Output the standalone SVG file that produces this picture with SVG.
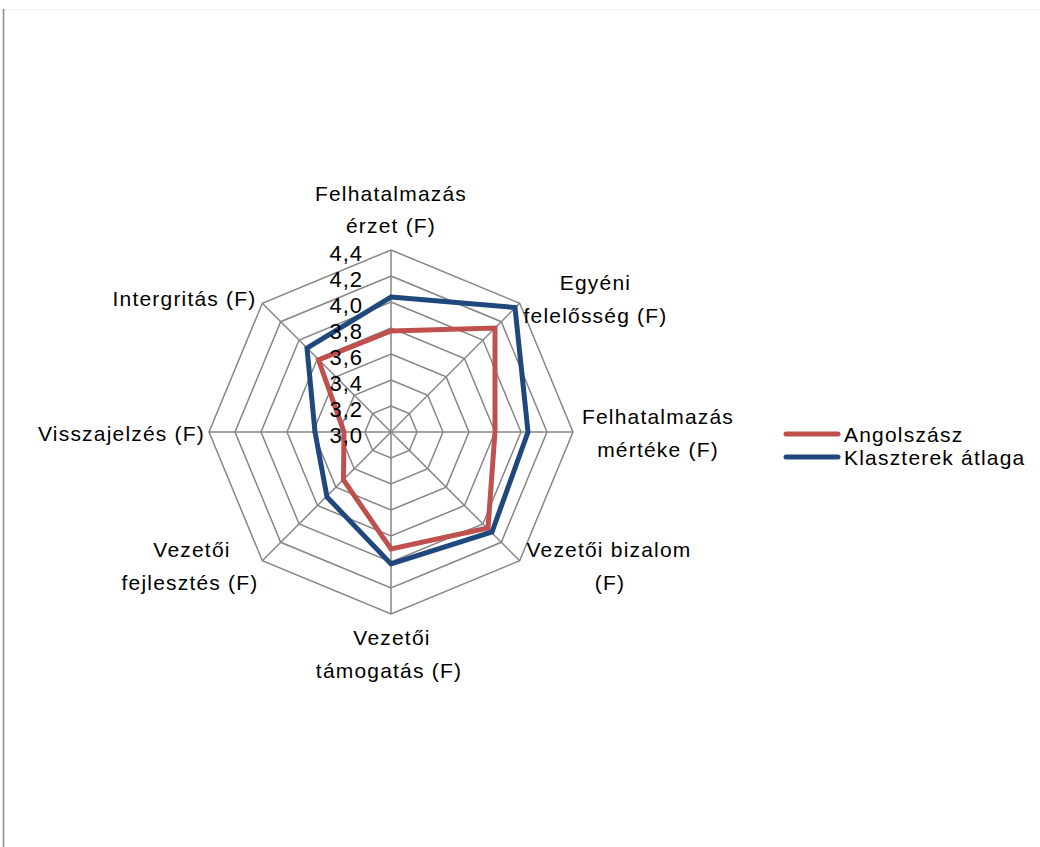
<svg xmlns="http://www.w3.org/2000/svg" width="1040" height="847" viewBox="0 0 1040 847">
  <style>
    text { font-family: "Liberation Sans", Arial, sans-serif; font-size: 21px; fill: #000; letter-spacing: 1.2px; }
    .lbl { text-anchor: middle; }
    .num { text-anchor: end; font-size: 22px; letter-spacing: 1px; }
    .ring { fill: none; stroke: #868686; stroke-width: 1.5; }
    .spoke { stroke: #868686; stroke-width: 1.5; }
    .series { fill: none; stroke-width: 5; stroke-linejoin: miter; }
    .red { stroke: #C0504D; }
    .blue { stroke: #1F497D; }
  </style>

  <!-- frame -->
  <rect x="0" y="0" width="1040" height="847" fill="#ffffff"/>
  <line x1="3.5" y1="9.5" x2="1040" y2="9.5" stroke="#efefef" stroke-width="1"/>
  <line x1="3.5" y1="9" x2="3.5" y2="847" stroke="#8a8a8a" stroke-width="1.5"/>

  <!-- radar grid: 7 rings (3,0 .. 4,4) and 8 spokes -->
  <g id="grid">
    <polygon class="ring" points="391,406 409.38,413.62 417,432 409.38,450.38 391,458 372.62,450.38 365,432 372.62,413.62"/>
    <polygon class="ring" points="391,380 427.77,395.23 443,432 427.77,468.77 391,484 354.23,468.77 339,432 354.23,395.23"/>
    <polygon class="ring" points="391,354 446.15,376.85 469,432 446.15,487.15 391,510 335.85,487.15 313,432 335.85,376.85"/>
    <polygon class="ring" points="391,328 464.54,358.46 495,432 464.54,505.54 391,536 317.46,505.54 287,432 317.46,358.46"/>
    <polygon class="ring" points="391,302 482.92,340.08 521,432 482.92,523.92 391,562 299.08,523.92 261,432 299.08,340.08"/>
    <polygon class="ring" points="391,276 501.31,321.69 547,432 501.31,542.31 391,588 280.69,542.31 235,432 280.69,321.69"/>
    <polygon class="ring" points="391,250 519.69,303.31 573,432 519.69,560.69 391,614 262.31,560.69 209,432 262.31,303.31"/>
    <line class="spoke" x1="391" y1="432" x2="391" y2="250"/>
    <line class="spoke" x1="391" y1="432" x2="519.69" y2="303.31"/>
    <line class="spoke" x1="391" y1="432" x2="573" y2="432"/>
    <line class="spoke" x1="391" y1="432" x2="519.69" y2="560.69"/>
    <line class="spoke" x1="391" y1="432" x2="391" y2="614"/>
    <line class="spoke" x1="391" y1="432" x2="262.31" y2="560.69"/>
    <line class="spoke" x1="391" y1="432" x2="209" y2="432"/>
    <line class="spoke" x1="391" y1="432" x2="262.31" y2="303.31"/>
  </g>

  <!-- data series -->
  <g id="series">
    <polygon id="series-angolszasz" class="series red" points="391,331 495,328 495,432 488,528 391,549 343.5,480 344,432 318.5,360"/>
    <polygon id="series-klaszterek" class="series blue" points="391,297 515,307.5 528,432 492,532 391,564 327,497 315,432 307,348"/>
  </g>

  <!-- axis scale -->
  <g id="scale">
    <text class="num" x="363" y="261">4,4</text>
    <text class="num" x="363" y="287">4,2</text>
    <text class="num" x="363" y="313">4,0</text>
    <text class="num" x="363" y="339">3,8</text>
    <text class="num" x="363" y="365">3,6</text>
    <text class="num" x="363" y="391">3,4</text>
    <text class="num" x="363" y="417">3,2</text>
    <text class="num" x="363" y="443">3,0</text>
  </g>

  <!-- category labels -->
  <g id="axis-felhatalmazas-erzet">
    <text class="lbl" x="391" y="200.5">Felhatalmazás</text>
    <text class="lbl" x="391" y="233">érzet (F)</text>
  </g>
  <g id="axis-egyeni-felelosseg">
    <text class="lbl" x="595.5" y="289.5">Egyéni</text>
    <text class="lbl" x="595.5" y="323">felelősség (F)</text>
  </g>
  <g id="axis-felhatalmazas-merteke">
    <text class="lbl" x="658" y="423.5">Felhatalmazás</text>
    <text class="lbl" x="658" y="456.5">mértéke (F)</text>
  </g>
  <g id="axis-vezetoi-bizalom">
    <text class="lbl" x="609" y="557">Vezetői bizalom</text>
    <text class="lbl" x="610" y="590">(F)</text>
  </g>
  <g id="axis-vezetoi-tamogatas">
    <text class="lbl" x="392" y="644.5">Vezetői</text>
    <text class="lbl" x="389" y="677.5">támogatás (F)</text>
  </g>
  <g id="axis-vezetoi-fejlesztes">
    <text class="lbl" x="192" y="557">Vezetői</text>
    <text class="lbl" x="190" y="590">fejlesztés (F)</text>
  </g>
  <g id="axis-visszajelzes">
    <text class="lbl" x="121.5" y="441">Visszajelzés (F)</text>
  </g>
  <g id="axis-intergritas">
    <text class="lbl" x="184.5" y="306">Intergritás (F)</text>
  </g>

  <!-- legend -->
  <g id="legend">
    <g id="legend-angolszasz">
      <line x1="786" y1="434" x2="838" y2="434" stroke="#C0504D" stroke-width="5" stroke-linecap="round"/>
      <text x="844" y="441.5">Angolszász</text>
    </g>
    <g id="legend-klaszterek">
      <line x1="786" y1="457" x2="838" y2="457" stroke="#1F497D" stroke-width="5" stroke-linecap="round"/>
      <text x="844" y="464.5">Klaszterek átlaga</text>
    </g>
  </g>
</svg>
